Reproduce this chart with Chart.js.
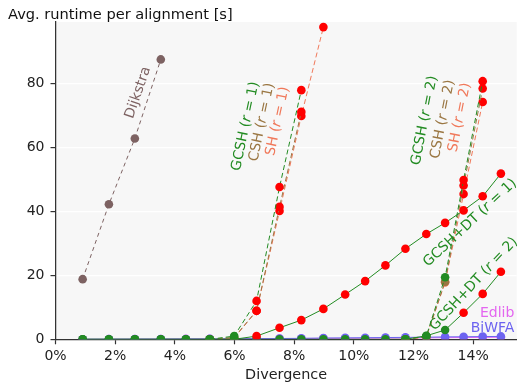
<!DOCTYPE html>
<html><head><meta charset="utf-8">
<script src="https://cdn.jsdelivr.net/npm/chart.js@4.4.0/dist/chart.umd.min.js"></script>
<style>html,body{margin:0;padding:0;background:#fff;}#wrap{width:521px;height:388px;position:relative;}</style>
</head><body><div id="wrap"><canvas id="c" width="521" height="388"></canvas></div>
<script>
// ---- data ----
const divergence = [0.91, 1.79, 2.66, 3.53, 4.37, 5.17, 5.99, 6.74, 7.51, 8.24, 8.98, 9.71, 10.38, 11.06, 11.73, 12.43, 13.06, 13.68, 14.32, 14.93];
const xTickValues = [0, 2, 4, 6, 8, 10, 12, 14];
const xTickLabels = ['0%', '2%', '4%', '6%', '8%', '10%', '12%', '14%'];
const yTickValues = [0, 20, 40, 60, 80];
const yTickLabels = ['0', '20', '40', '60', '80'];
const N = null;
const dijkstra = [18.8, 42.2, 62.8, 87.5, N, N, N, N, N, N, N, N, N, N, N, N, N, N, N, N];
const gcshR1   = [N, N, N, N, N, 0, 1.0, 12.0, 47.6, 77.9, N, N, N, N, N, N, N, N, N, N];
const cshR1    = [N, N, N, N, N, 0, 0.6, 8.9, 41.4, 71.1, N, N, N, N, N, N, N, N, N, N];
const shR1     = [N, N, N, N, N, 0, 0.4, 8.9, 40.1, 69.8, 97.6, N, N, N, N, N, N, N, N, N];
const gcshR2   = [N, N, N, N, N, N, N, N, N, N, N, N, N, N, 0, 1.0, 19.4, 49.8, 80.7, N];
const cshR2    = [N, N, N, N, N, N, N, N, N, N, N, N, N, N, 0, 0.8, 18.0, 48.1, 78.4, N];
const shR2     = [N, N, N, N, N, N, N, N, N, N, N, N, N, N, 0, 0.7, 17.8, 45.4, 74.2, N];
const gcshDtR1 = [0, 0, 0, 0, 0, 0, 0, 1.0, 3.6, 6.0, 9.5, 14.0, 18.2, 23.1, 28.3, 32.9, 36.4, 40.3, 44.7, 51.8];
const gcshDtR2 = [0, 0, 0, 0, 0, 0, 0, 0, 0, 0, 0, 0, 0, 0, 0, 1.1, 2.9, 8.3, 14.2, 21.1];
const edlib    = [0.02, 0.04, 0.06, 0.08, 0.12, 0.15, 0.18, 0.2, 0.22, 0.25, 0.28, 0.3, 0.33, 0.36, 0.4, 0.45, 0.5, 0.55, 0.6, 0.65];
const biwfa    = [0.02, 0.04, 0.06, 0.08, 0.1, 0.13, 0.16, 0.2, 0.25, 0.3, 0.4, 0.45, 0.5, 0.55, 0.6, 0.65, 0.75, 0.8, 0.85, 0.9];
// index from which markers are drawn red
const redFrom = {gcshDtR1: 7, gcshDtR2: 17, gcshR1: 7, cshR1: 7, shR1: 7, gcshR2: 17, cshR2: 17, shR2: 17};

// ---- styles ----
const C = {
  green: '#228b22', brown: '#9a7642', salmon: '#f0785a', dijkstra: '#7d6262',
  edlib: '#e466f0', biwfa: '#6c63f0', red: '#ff0000'
};
const FONT = 'DejaVu Sans';

function pts(vals) {
  const out = [];
  vals.forEach((v, i) => { if (v !== null) out.push({x: divergence[i], y: v, i: i}); });
  return out;
}
function ds(label, vals, color, dashed, rf, dash) {
  const data = pts(vals);
  return {
    label, data,
    borderColor: color, borderWidth: 1,
    borderDash: dashed ? (dash || [5, 3]) : [],
    pointRadius: 4.3, pointHoverRadius: 4.3, pointBorderWidth: 0,
    pointBackgroundColor: data.map(p => (rf !== undefined && p.i >= rf) ? C.red : color),
    pointBorderColor: 'rgba(0,0,0,0)',
    fill: false, tension: 0
  };
}

const datasets = [
  ds('GCSH+DT (r=1)', gcshDtR1, C.green, false, redFrom.gcshDtR1),
  ds('GCSH+DT (r=2)', gcshDtR2, C.green, false, redFrom.gcshDtR2),
  ds('GCSH (r=1)', gcshR1, C.green, true, redFrom.gcshR1),
  ds('CSH (r=1)', cshR1, C.brown, true, redFrom.cshR1),
  ds('SH (r=1)', shR1, C.salmon, true, redFrom.shR1),
  ds('GCSH (r=2)', gcshR2, C.green, true, redFrom.gcshR2),
  ds('CSH (r=2)', cshR2, C.brown, true, redFrom.cshR2),
  ds('SH (r=2)', shR2, C.salmon, true, redFrom.shR2),
  ds('Dijkstra', dijkstra, C.dijkstra, true, undefined, [4, 3.5]),
  ds('BiWFA', biwfa, C.biwfa, false),
  ds('Edlib', edlib, C.edlib, false)
];

const curveLabels = [
  {parts: [['Dijkstra', false]], color: C.dijkstra, x: 2.77, y: 77.1, angle: -71},
  {parts: [['GCSH (', false], ['r', true], [' = 1)', false]], color: C.green, x: 6.37, y: 66.6, angle: -78},
  {parts: [['CSH (', false], ['r', true], [' = 1)', false]], color: C.brown, x: 6.92, y: 67.9, angle: -78},
  {parts: [['SH (', false], ['r', true], [' = 1)', false]], color: C.salmon, x: 7.45, y: 68.2, angle: -78},
  {parts: [['GCSH (', false], ['r', true], [' = 2)', false]], color: C.green, x: 12.37, y: 68.4, angle: -79},
  {parts: [['CSH (', false], ['r', true], [' = 2)', false]], color: C.brown, x: 12.98, y: 68.8, angle: -79},
  {parts: [['SH (', false], ['r', true], [' = 2)', false]], color: C.salmon, x: 13.55, y: 69.4, angle: -79},
  {parts: [['GCSH+DT (', false], ['r', true], [' = 1)', false]], color: C.green, x: 13.9, y: 36.4, angle: -43},
  {parts: [['GCSH+DT (', false], ['r', true], [' = 2)', false]], color: C.green, x: 14.02, y: 17.3, angle: -47},
  {parts: [['Edlib', false]], color: C.edlib, x: 15.38, y: 8.2, angle: 0, align: 'right'},
  {parts: [['BiWFA', false]], color: C.biwfa, x: 15.38, y: 3.4, angle: 0, align: 'right'}
];

const bgPlugin = {
  id: 'bg',
  beforeDraw(chart) {
    const {ctx, chartArea: a} = chart;
    ctx.save();
    ctx.fillStyle = '#f7f7f7';
    ctx.fillRect(a.left, a.top, a.right - a.left, a.bottom - a.top);
    ctx.restore();
  }
};
const labelPlugin = {
  id: 'curveLabels',
  afterDatasetsDraw(chart) {
    const {ctx, scales: {x, y}} = chart;
    ctx.save();
    ctx.fillStyle = '#111';
    ctx.font = '14.6px "' + FONT + '"';
    ctx.textBaseline = 'alphabetic';
    ctx.textAlign = 'left';
    ctx.fillText('Avg. runtime per alignment [s]', 8, 19);
    curveLabels.forEach(l => {
      const px = x.getPixelForValue(l.x), py = y.getPixelForValue(l.y);
      ctx.save();
      ctx.translate(px, py);
      ctx.rotate(l.angle * Math.PI / 180);
      ctx.fillStyle = l.color;
      ctx.textBaseline = 'middle';
      ctx.textAlign = 'left';
      let total = 0;
      const widths = l.parts.map(([t, it]) => {
        ctx.font = (it ? 'italic ' : '') + '14px "' + FONT + '"';
        const w = ctx.measureText(t).width; total += w; return w;
      });
      let cx = l.align === 'right' ? -total : -total / 2;
      l.parts.forEach(([t, it], k) => {
        ctx.font = (it ? 'italic ' : '') + '14px "' + FONT + '"';
        ctx.fillText(t, cx, 0);
        cx += widths[k];
      });
      ctx.restore();
    });
    ctx.restore();
  }
};

new Chart(document.getElementById('c'), {
  type: 'line',
  data: {datasets},
  options: {
    responsive: false,
    animation: false,
    events: [],
    layout: {padding: {top: 22, right: 1, left: 0, bottom: 0}},
    plugins: {legend: {display: false}, tooltip: {enabled: false}, title: {display: false}},
    scales: {
      x: {
        type: 'linear', min: 0, max: 15.46,
        afterBuildTicks: s => { s.ticks = xTickValues.map(v => ({value: v})); },
        afterFit: s => { s.height = 48.7; },
        ticks: {
          callback: (v) => xTickLabels[xTickValues.indexOf(v)],
          font: {family: FONT, size: 14}, color: '#222', padding: 4, maxRotation: 0, autoSkip: false
        },
        grid: {drawOnChartArea: false, tickLength: 5, tickColor: '#333', tickWidth: 1.2},
        border: {color: '#333', width: 1.25},
        title: {display: true, text: 'Divergence', font: {family: FONT, size: 14.4}, color: '#222', padding: {top: 4, bottom: 3.6}}
      },
      y: {
        type: 'linear', min: 0, max: 99.2,
        afterBuildTicks: s => { s.ticks = yTickValues.map(v => ({value: v})); },
        afterFit: s => { s.width = 55.5; },
        ticks: {
          callback: (v) => yTickLabels[yTickValues.indexOf(v)],
          font: {family: FONT, size: 14}, color: '#222', padding: 6, autoSkip: false
        },
        grid: {
          color: ctx => (ctx.tick && ctx.tick.value === 0) ? 'rgba(0,0,0,0)' : '#ffffff',
          lineWidth: 1.2, tickLength: 5, tickColor: '#333', tickWidth: 1.2
        },
        border: {color: '#333', width: 1.25}
      }
    }
  },
  plugins: [bgPlugin, labelPlugin]
});
</script>
</body></html>
